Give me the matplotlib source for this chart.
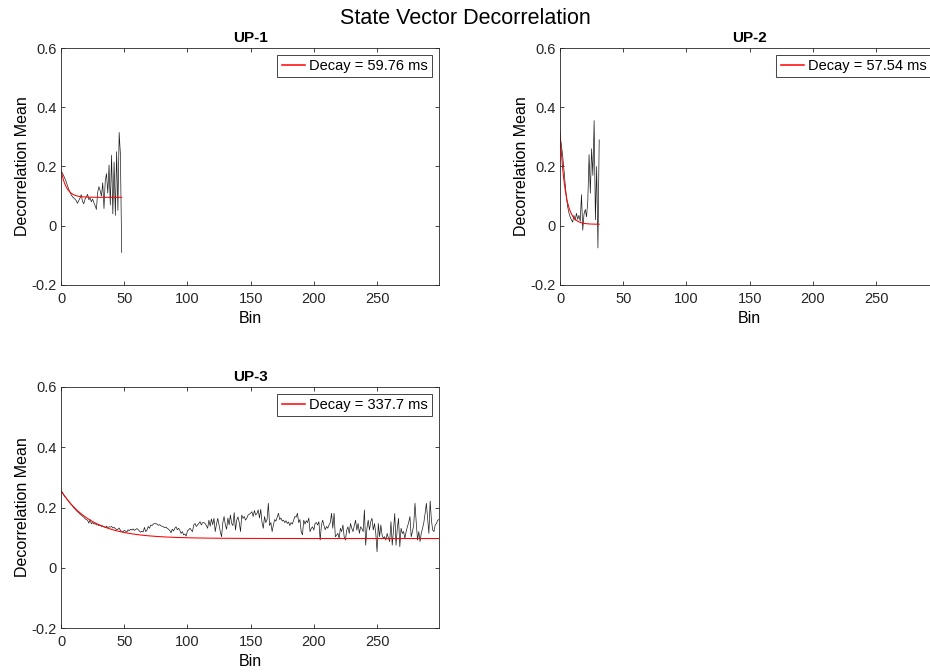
import numpy as np
import matplotlib
matplotlib.use("Agg")
import matplotlib.pyplot as plt
from matplotlib.lines import Line2D

plt.rcParams['font.family'] = ['Liberation Sans', 'DejaVu Sans']

# ---- data -------------------------------------------------------------
unit_names = ["UP-1", "UP-2", "UP-3"]
bin_ms = 14.0                       # width of one bin in milliseconds
decay_ms = [59.76, 57.54, 337.7]    # fitted decay constants
fit_offset = [0.096, 0.005, 0.097]  # asymptote of the exponential fit
fit_amp = [0.092, 0.315, 0.159]     # amplitude of the exponential fit

up1_mean = [
    0.185, 0.178, 0.170, 0.160, 0.150, 0.137, 0.124, 0.115, 0.105, 0.098,
    0.094, 0.090, 0.085, 0.076, 0.085, 0.093, 0.105, 0.082, 0.074, 0.090,
    0.098, 0.106, 0.088, 0.094, 0.081, 0.090, 0.078, 0.068, 0.055, 0.112,
    0.132, 0.118, 0.100, 0.145, 0.058, 0.152, 0.176, 0.110, 0.205, 0.070,
    0.238, 0.040, 0.215, 0.035, 0.250, 0.052, 0.315, 0.240, -0.090,
]

up2_mean = [
    0.300, 0.275, 0.240, 0.195, 0.145, 0.100, 0.065, 0.045, 0.030, 0.020,
    0.012, 0.035, 0.018, 0.042, 0.022, 0.035, 0.015, 0.105, -0.015, 0.040,
    0.055, 0.030, 0.085, 0.240, 0.110, 0.260, 0.170, 0.355, 0.020, 0.200,
    -0.075, 0.290,
]

up3_mean = [
    0.256, 0.250, 0.243, 0.236, 0.232, 0.226, 0.221, 0.215, 0.210, 0.206,
    0.199, 0.196, 0.190, 0.186, 0.183, 0.178, 0.175, 0.171, 0.168, 0.163,
    0.160, 0.158, 0.148, 0.160, 0.146, 0.150, 0.145, 0.147, 0.142, 0.143,
    0.140, 0.142, 0.137, 0.139, 0.136, 0.134, 0.138, 0.133, 0.136, 0.135,
    0.137, 0.132, 0.134, 0.130, 0.126, 0.128, 0.132, 0.124, 0.121, 0.119,
    0.124, 0.122, 0.118, 0.126, 0.123, 0.128, 0.125, 0.129, 0.124, 0.127,
    0.130, 0.127, 0.122, 0.118, 0.121, 0.119, 0.134, 0.120, 0.125, 0.137,
    0.131, 0.142, 0.140, 0.145, 0.147, 0.146, 0.145, 0.141, 0.143, 0.139,
    0.138, 0.136, 0.133, 0.135, 0.131, 0.128, 0.124, 0.116, 0.128, 0.122,
    0.131, 0.136, 0.126, 0.131, 0.124, 0.114, 0.120, 0.109, 0.112, 0.105,
    0.122, 0.126, 0.131, 0.125, 0.120, 0.142, 0.147, 0.137, 0.142, 0.147,
    0.153, 0.142, 0.150, 0.150, 0.147, 0.140, 0.131, 0.158, 0.138, 0.162,
    0.143, 0.164, 0.120, 0.145, 0.164, 0.142, 0.120, 0.103, 0.150, 0.170,
    0.142, 0.128, 0.165, 0.142, 0.175, 0.147, 0.140, 0.183, 0.125, 0.158,
    0.169, 0.150, 0.120, 0.175, 0.164, 0.170, 0.158, 0.165, 0.175, 0.178,
    0.181, 0.186, 0.170, 0.190, 0.175, 0.180, 0.192, 0.165, 0.194, 0.150,
    0.131, 0.170, 0.150, 0.160, 0.214, 0.140, 0.150, 0.120, 0.142, 0.160,
    0.155, 0.168, 0.181, 0.160, 0.165, 0.155, 0.158, 0.150, 0.156, 0.147,
    0.152, 0.140, 0.150, 0.145, 0.158, 0.170, 0.168, 0.181, 0.150, 0.160,
    0.120, 0.109, 0.158, 0.145, 0.156, 0.150, 0.165, 0.120, 0.131, 0.136,
    0.125, 0.147, 0.150, 0.142, 0.153, 0.092, 0.142, 0.158, 0.140, 0.126,
    0.137, 0.131, 0.142, 0.150, 0.181, 0.131, 0.181, 0.103, 0.108, 0.114,
    0.098, 0.131, 0.120, 0.142, 0.103, 0.092, 0.125, 0.136, 0.114, 0.147,
    0.131, 0.120, 0.140, 0.158, 0.125, 0.147, 0.114, 0.136, 0.130, 0.120,
    0.192, 0.075, 0.131, 0.158, 0.125, 0.153, 0.164, 0.125, 0.147, 0.114,
    0.053, 0.147, 0.103, 0.142, 0.108, 0.098, 0.103, 0.092, 0.114, 0.098,
    0.087, 0.153, 0.075, 0.125, 0.180, 0.075, 0.131, 0.164, 0.070, 0.131,
    0.114, 0.120, 0.098, 0.120, 0.136, 0.150, 0.170, 0.103, 0.120, 0.142,
    0.214, 0.150, 0.092, 0.120, 0.087, 0.115, 0.131, 0.150, 0.180, 0.214,
    0.164, 0.114, 0.222, 0.158, 0.125, 0.120, 0.142, 0.147, 0.158, 0.160,
]

series = [up1_mean, up2_mean, up3_mean]
x_ticks = [0, 50, 100, 150, 200, 250]
y_ticks = [-0.2, 0, 0.2, 0.4, 0.6]
y_tick_labels = ["-0.2", "0", "0.2", "0.4", "0.6"]

# ---- figure -----------------------------------------------------------
W, H = 930, 672
fig = plt.figure(figsize=(W / 100, H / 100), dpi=100)

def px_axes(left, top, right, bottom):
    return [left / W, 1 - bottom / H, (right - left) / W, (bottom - top) / H]

positions = [
    px_axes(61, 48, 439, 285),
    px_axes(560, 48, 938, 285),
    px_axes(61, 387, 439, 628),
]

axis_color = "#262626"
fit_color = "#ff0000"

for i, (name, ys, pos) in enumerate(zip(unit_names, series, positions)):
    ax = fig.add_axes(pos)
    x = np.arange(len(ys))
    ax.plot(x, ys, color="#1a1a1a", lw=0.5)
    fit = fit_offset[i] + fit_amp[i] * np.exp(-x * bin_ms / decay_ms[i])
    ax.plot(x, fit, color=fit_color, lw=0.75)

    ax.set_xlim(0, 299)
    ax.set_ylim(-0.2, 0.6)
    ax.set_xticks(x_ticks)
    ax.set_yticks(y_ticks)
    ax.set_yticklabels(y_tick_labels)
    ax.tick_params(direction="in", length=3, width=0.6, colors=axis_color,
                   labelsize=10.5, top=True, right=True)
    ax.tick_params(axis="x", pad=5)
    ax.tick_params(axis="y", pad=3)
    for sp in ax.spines.values():
        sp.set_color(axis_color)
        sp.set_linewidth(0.6)
    ax.set_title(name, fontsize=11, fontweight="bold", pad=4)
    ax.set_xlabel("Bin", fontsize=11.5, labelpad=4)
    ax.set_ylabel("Decorrelation Mean", fontsize=11.5, labelpad=1)

    key = Line2D([], [], color=fit_color, lw=1.1)
    leg = ax.legend([key], [f"Decay = {decay_ms[i]:.4g} ms"],
                    loc="upper right", fontsize=10.5, handlelength=1.6,
                    handletextpad=0.3, borderpad=0.3, borderaxespad=0.45,
                    fancybox=False, framealpha=1)
    leg.get_frame().set_edgecolor("#262626")
    leg.get_frame().set_linewidth(0.6)

fig.text(0.5, 1 - 19 / H, "State Vector Decorrelation", ha="center",
         va="center", fontsize=15.5)

fig.savefig("out.png", dpi=100)
